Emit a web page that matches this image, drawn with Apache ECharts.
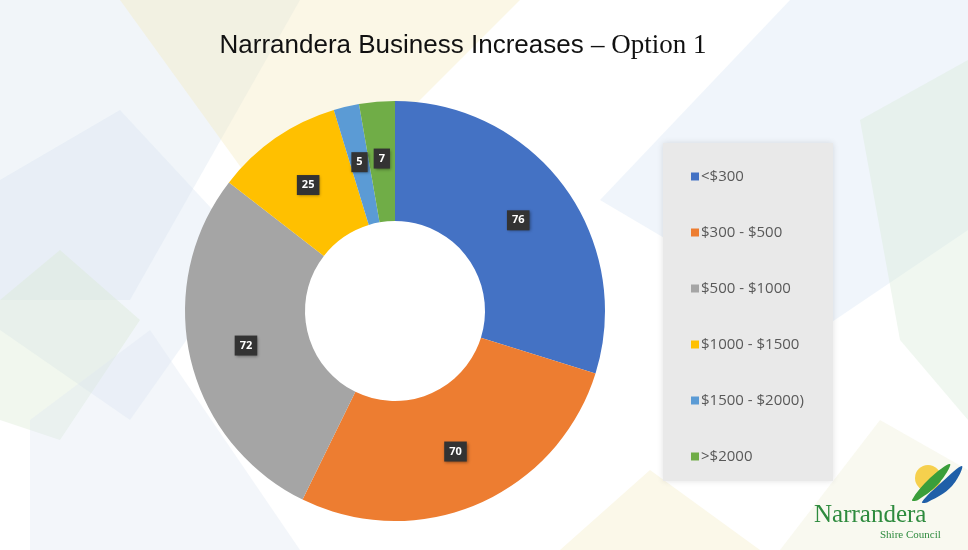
<!DOCTYPE html>
<html>
<head>
<meta charset="utf-8">
<script src="https://cdn.jsdelivr.net/npm/echarts@6/dist/echarts.min.js"></script>
<style>
  html, body { margin: 0; padding: 0; background: #fff; }
  #chart { width: 968px; height: 550px; }
</style>
</head>
<body>
<div id="chart"></div>
<script>
  // chart data
  var categories = ['<$300', '$300 - $500', '$500 - $1000', '$1000 - $1500', '$1500 - $2000)', '>$2000']
  var counts = [76, 70, 72, 25, 5, 7]
  var colors = ['#4472C4', '#ED7D31', '#A5A5A5', '#FFC000', '#5B9BD5', '#70AD47']

  var chart = echarts.init(document.getElementById('chart'))

  // soft slide background shapes
  var bgShapes = [
    { pts: [[0, 0], [300, 0], [130, 300], [0, 300]], fill: 'rgba(205,220,235,0.28)' },
    { pts: [[120, 0], [520, 0], [380, 140], [250, 180]], fill: 'rgba(245,235,190,0.38)' },
    { pts: [[0, 180], [120, 110], [250, 250], [130, 420], [0, 330]], fill: 'rgba(215,225,240,0.35)' },
    { pts: [[0, 300], [60, 250], [140, 320], [60, 440], [0, 420]], fill: 'rgba(215,232,205,0.35)' },
    { pts: [[30, 420], [150, 330], [300, 550], [30, 550]], fill: 'rgba(220,228,240,0.35)' },
    { pts: [[600, 200], [790, 0], [968, 0], [968, 230], [820, 330]], fill: 'rgba(215,228,245,0.38)' },
    { pts: [[860, 120], [968, 60], [968, 420], [900, 340]], fill: 'rgba(215,235,215,0.38)' },
    { pts: [[560, 550], [650, 470], [760, 550]], fill: 'rgba(245,238,200,0.4)' },
    { pts: [[780, 550], [880, 420], [968, 470], [968, 550]], fill: 'rgba(238,240,215,0.38)' }
  ]
  var graphics = bgShapes.map(function (s) {
    return { type: 'polygon', z: -10, silent: true, shape: { points: s.pts }, style: { fill: s.fill } }
  })

  // legend panel
  graphics.push({
    type: 'rect', z: -5, silent: true,
    shape: { x: 663, y: 143, width: 170, height: 338 },
    style: { fill: '#e9e9e9', shadowBlur: 6, shadowColor: 'rgba(0,0,0,0.12)' }
  })

  // logo
  graphics.push({
    type: 'circle', z: 1, silent: true,
    shape: { cx: 928, cy: 478, r: 13 },
    style: { fill: '#F6D04D' }
  })
  graphics.push({
    type: 'polygon', z: 2, silent: true,
    shape: { points: [[912, 500], [930, 478], [950, 464], [940, 482], [918, 500]], smooth: 0.4 },
    style: { fill: '#3A9E3A' }
  })
  graphics.push({
    type: 'polygon', z: 2, silent: true,
    shape: { points: [[922, 502], [942, 482], [962, 466], [952, 486], [928, 502]], smooth: 0.4 },
    style: { fill: '#1F5FA8' }
  })
  graphics.push({
    type: 'text', z: 3, silent: true, left: 814, top: 503,
    style: { text: 'Narrandera', fill: '#2E8B3E', font: '25px "Liberation Serif", serif' }
  })
  graphics.push({
    type: 'text', z: 3, silent: true, left: 880, top: 530,
    style: { text: 'Shire Council', fill: '#2E8B3E', font: '11px "Liberation Serif", serif' }
  })

  var pieData = categories.map(function (c, i) {
    return { name: c, value: counts[i], itemStyle: { color: colors[i] } }
  })

  chart.setOption({
    backgroundColor: '#ffffff',
    animation: false,
    title: {
      text: '{a|Narrandera Business Increases }{b|– Option 1}',
      left: 458,
      textAlign: 'center',
      top: 27,
      textStyle: {
        rich: {
          a: { fontFamily: 'Liberation Sans, Arial, sans-serif', fontSize: 26, fontWeight: 'normal', color: '#111' },
          b: { fontFamily: 'Liberation Serif, Times New Roman, serif', fontSize: 27, fontWeight: 'normal', color: '#111' }
        }
      }
    },
    graphic: graphics,
    legend: {
      orient: 'vertical',
      left: 686,
      top: 164,
      itemWidth: 8,
      itemHeight: 8,
      itemGap: 41,
      icon: 'rect',
      textStyle: { fontFamily: 'Open Sans, sans-serif', fontSize: 15, color: '#595959', padding: [0, 0, 0, -3] },
      data: categories
    },
    series: [{
      type: 'pie',
      center: [395, 311],
      radius: [90, 210],
      startAngle: 90,
      clockwise: true,
      data: pieData,
      label: {
        show: true,
        position: 'inside',
        formatter: '{c}',
        color: '#fff',
        fontWeight: 'bold',
        fontSize: 11,
        fontFamily: 'Open Sans, sans-serif',
        backgroundColor: '#333',
        padding: [5, 5, 4, 5],
        shadowBlur: 3,
        shadowColor: 'rgba(0,0,0,0.4)',
        shadowOffsetX: 1,
        shadowOffsetY: 1
      },
      labelLine: { show: false },
      itemStyle: { borderWidth: 0 },
      emphasis: { disabled: true }
    }]
  })
</script>
</body>
</html>
